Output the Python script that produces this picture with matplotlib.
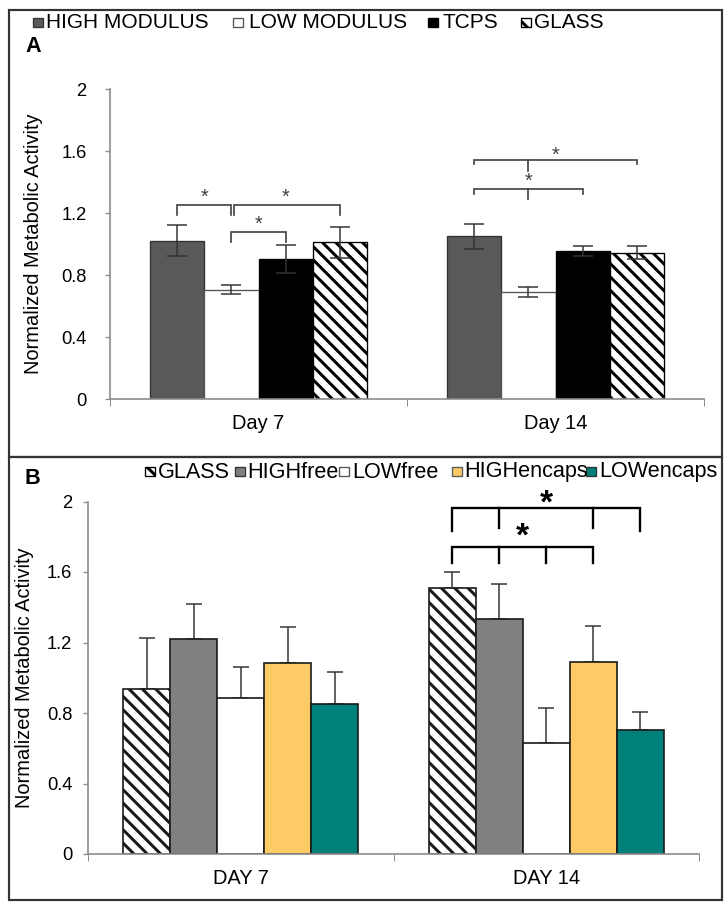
import matplotlib

matplotlib.use("Agg")
import matplotlib.pyplot as plt
from matplotlib.patches import Rectangle

plt.rcParams["font.family"] = ["Liberation Sans", "DejaVu Sans"]
plt.rcParams["hatch.linewidth"] = 1.8
plt.rcParams["hatch.color"] = "black"

# ---- panel A data ----
days_a = ["Day 7", "Day 14"]
labels_a = ["HIGH MODULUS", "LOW MODULUS", "TCPS", "GLASS"]
high_mod = [1.02, 1.05]
high_mod_err = [0.10, 0.08]
low_mod = [0.705, 0.69]
low_mod_err = [0.03, 0.03]
tcps = [0.905, 0.955]
tcps_err = [0.09, 0.03]
glass_a = [1.01, 0.945]
glass_a_err = [0.10, 0.04]

# ---- panel B data ----
days_b = ["DAY 7", "DAY 14"]
labels_b = ["GLASS", "HIGHfree", "LOWfree", "HIGHencaps", "LOWencaps"]
glass_b = [0.934, 1.511]
glass_b_err = [0.293, 0.091]
high_free = [1.218, 1.331]
high_free_err = [0.202, 0.201]
low_free = [0.887, 0.628]
low_free_err = [0.175, 0.202]
high_encaps = [1.085, 1.087]
high_encaps_err = [0.203, 0.204]
low_encaps = [0.849, 0.705]
low_encaps_err = [0.181, 0.101]

yticks = [0, 0.4, 0.8, 1.2, 1.6, 2]
ytick_labels = ["0", "0.4", "0.8", "1.2", "1.6", "2"]

W, H, DPI = 724, 902, 120
AXIS_GRAY = "#8c8c8c"
HATCH = "\\\\\\"


def fx(x):
    return x / W


def fy(y):
    return 1 - y / H


def style_axes(ax, cats, pad_y, pad_x):
    for s in ("top", "right"):
        ax.spines[s].set_visible(False)
    for s in ("left", "bottom"):
        ax.spines[s].set_color(AXIS_GRAY)
        ax.spines[s].set_linewidth(1.0)
    ax.set_xlim(-0.5, 1.5)
    ax.set_ylim(0, 2)
    ax.set_yticks(yticks)
    ax.set_yticklabels(ytick_labels, fontsize=11)
    ax.tick_params(axis="y", direction="out", length=3, color=AXIS_GRAY, pad=pad_y)
    ax.set_xticks([0, 1])
    ax.set_xticklabels(cats, fontsize=12)
    ax.tick_params(axis="x", which="major", length=0, pad=pad_x)
    ax.set_xticks([-0.5, 0.5, 1.5], minor=True)
    ax.tick_params(axis="x", which="minor", direction="out", length=4, color=AXIS_GRAY)
    ax.set_ylabel("Normalized Metabolic Activity", fontsize=12)


def bracket(ax, x0, x1, y, leg, inner=(), inner_y=None, color="k", lw=1.0):
    ax.plot([x0, x0, x1, x1], [leg, y, y, leg], color=color, lw=lw,
            solid_joinstyle="miter", clip_on=False)
    for xi in inner:
        ax.plot([xi, xi], [y, inner_y], color=color, lw=lw, clip_on=False)


fig = plt.figure(figsize=(W / DPI, H / DPI), dpi=DPI)

# frames
for y0, y1 in ((10, 457), (457, 900)):
    fig.add_artist(Rectangle((fx(9), fy(y1)), fx(722) - fx(9), fy(y0) - fy(y1),
                             transform=fig.transFigure, fill=False,
                             edgecolor="#333333", lw=1.3))

# ---------------- panel A ----------------
axA = fig.add_axes([fx(110), fy(399), fx(704) - fx(110), fy(89) - fy(399)])
wa = 0.182
series_a = [
    (high_mod, high_mod_err, dict(color="#595959", edgecolor="#333333")),
    (low_mod, low_mod_err, dict(color="white", edgecolor="#555555")),
    (tcps, tcps_err, dict(color="black", edgecolor="black")),
    (glass_a, glass_a_err, dict(color="white", edgecolor="black", hatch=HATCH)),
]
centers_a = []
for i, (vals, errs, kw) in enumerate(series_a):
    xs = [g + (i - 1.5) * wa for g in range(2)]
    centers_a.append(xs)
    axA.bar(xs, vals, wa, lw=0.8, zorder=2, **kw)
    axA.errorbar(xs, vals, yerr=errs, fmt="none", ecolor="#333333",
                 elinewidth=0.9, capsize=6, capthick=0.9, zorder=3)
style_axes(axA, days_a, pad_y=11, pad_x=9)
axA.yaxis.set_label_coords(-0.112, 0.5)

g = "#404040"
c = centers_a
# Day 7
bracket(axA, c[0][0], c[1][0], 1.254, 1.19, color=g)
bracket(axA, c[1][0] + 0.01, c[3][0], 1.254, 1.19, color=g)
bracket(axA, c[1][0], c[2][0], 1.08, 1.01, color=g)
axA.text((c[0][0] + c[1][0]) / 2, 1.30, "*", ha="center", va="center", fontsize=12, color=g)
axA.text((c[1][0] + c[3][0]) / 2, 1.30, "*", ha="center", va="center", fontsize=12, color=g)
axA.text((c[1][0] + c[2][0]) / 2, 1.13, "*", ha="center", va="center", fontsize=12, color=g)
# Day 14
bracket(axA, c[0][1], c[3][1], 1.543, 1.515, inner=[c[1][1]], inner_y=1.47, color=g)
bracket(axA, c[0][1], c[2][1], 1.357, 1.32, inner=[c[1][1]], inner_y=1.29, color=g)
axA.text((c[1][1] + c[2][1]) / 2, 1.575, "*", ha="center", va="center", fontsize=12, color=g)
axA.text(c[1][1], 1.405, "*", ha="center", va="center", fontsize=12, color=g)

# legend A
leg_a = [
    (33, 46, dict(facecolor="#595959", edgecolor="#333333")),
    (233, 249, dict(facecolor="white", edgecolor="#555555")),
    (428, 442, dict(facecolor="black", edgecolor="black")),
    (521, 534, dict(facecolor="white", edgecolor="black", hatch="\\\\")),
]
for (mx, tx, kw), lab in zip(leg_a, labels_a):
    fig.add_artist(Rectangle((fx(mx), fy(27)), 10 / W, 9 / H,
                             transform=fig.transFigure, lw=0.8, **kw))
    fig.text(fx(tx), fy(22), lab, ha="left", va="center", fontsize=12.5)
fig.text(fx(25), fy(46), "A", ha="left", va="center", fontsize=13, weight="bold")

# ---------------- panel B ----------------
axB = fig.add_axes([fx(88), fy(854), fx(699) - fx(88), fy(501.5) - fy(854)])
wb = 0.154
series_b = [
    (glass_b, glass_b_err, dict(color="white", hatch=HATCH)),
    (high_free, high_free_err, dict(color="#808080")),
    (low_free, low_free_err, dict(color="white")),
    (high_encaps, high_encaps_err, dict(color="#fdcb66")),
    (low_encaps, low_encaps_err, dict(color="#00807b")),
]
centers_b = []
for i, (vals, errs, kw) in enumerate(series_b):
    xs = [g_ + (i - 2) * wb for g_ in range(2)]
    centers_b.append(xs)
    axB.bar(xs, vals, wb, edgecolor="#1a1a1a", lw=1.0, zorder=2, **kw)
    axB.errorbar(xs, vals, yerr=[[0, 0], errs], fmt="none", ecolor="#333333",
                 elinewidth=0.9, capsize=5, capthick=0.9, zorder=1)
style_axes(axB, days_b, pad_y=6.5, pad_x=9)
axB.yaxis.set_label_coords(-0.089, 0.5)

cb = centers_b
bracket(axB, cb[0][1], cb[4][1], 1.963, 1.833, inner=[cb[1][1], cb[3][1]],
        inner_y=1.85, lw=1.4)
bracket(axB, cb[0][1], cb[3][1], 1.742, 1.65, inner=[cb[1][1], cb[2][1]],
        inner_y=1.65, lw=1.4)
axB.text(cb[2][1], 1.986, "*", ha="center", va="center", fontsize=20,
         weight="bold", clip_on=False)
axB.text((cb[1][1] + cb[2][1]) / 2, 1.80, "*", ha="center", va="center",
         fontsize=20, weight="bold", clip_on=False)

# legend B
leg_b = [
    (145, 158, dict(facecolor="white", edgecolor="black", hatch="\\\\")),
    (235, 247, dict(facecolor="#808080", edgecolor="#333333")),
    (339, 352, dict(facecolor="white", edgecolor="#555555")),
    (452, 464, dict(facecolor="#fdcb66", edgecolor="#555555")),
    (586, 599, dict(facecolor="#00807b", edgecolor="#333333")),
]
for (mx, tx, kw), lab in zip(leg_b, labels_b):
    fig.add_artist(Rectangle((fx(mx), fy(476)), 10 / W, 9 / H,
                             transform=fig.transFigure, lw=0.8, **kw))
    fig.text(fx(tx), fy(472), lab, ha="left", va="center", fontsize=13)
fig.text(fx(25), fy(478), "B", ha="left", va="center", fontsize=13, weight="bold")

fig.savefig("out.png", dpi=DPI, facecolor="white")
